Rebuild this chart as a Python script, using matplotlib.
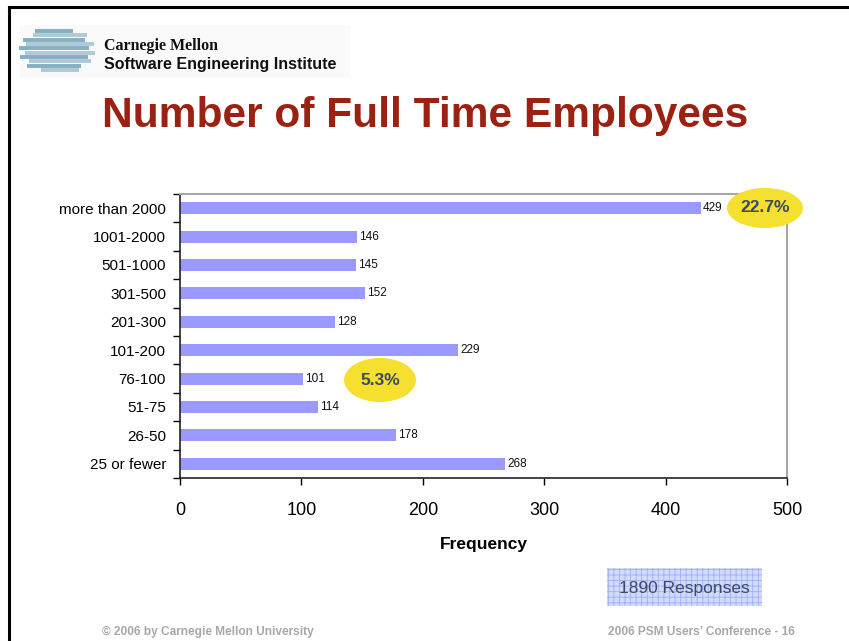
import matplotlib
matplotlib.use("Agg")
import matplotlib.pyplot as plt
from matplotlib.patches import Ellipse, Rectangle
from matplotlib.lines import Line2D
import numpy as np

plt.rcParams['font.family'] = ['Liberation Sans', 'DejaVu Sans']
plt.rcParams['hatch.linewidth'] = 0.6

# Survey data: number of full-time employees
categories = ["more than 2000", "1001-2000", "501-1000", "301-500", "201-300",
              "101-200", "76-100", "51-75", "26-50", "25 or fewer"]
frequencies = [429, 146, 145, 152, 128, 229, 101, 114, 178, 268]
x_ticks = [0, 100, 200, 300, 400, 500]
total_responses = 1890
callout_categories = ["more than 2000", "76-100"]

W, H = 849, 641
fig = plt.figure(figsize=(W / 100, H / 100), dpi=100)
fig.patch.set_facecolor("white")


def fx(px):
    return px / W


def fy(py):
    return 1 - py / H


# slide frame (top and left edges)
fig.add_artist(Line2D([fx(9), fx(849)], [fy(7), fy(7)], color="black", lw=2.2,
                      transform=fig.transFigure))
fig.add_artist(Line2D([fx(9), fx(9)], [fy(7), fy(641)], color="black", lw=2.2,
                      transform=fig.transFigure))

# institute logo: faint banner with a striped globe
fig.add_artist(Rectangle((fx(20), fy(78)), fx(330), 53 / H, transform=fig.transFigure,
                         facecolor="#FAFAFA", edgecolor="none", zorder=0))
stripe_rows = np.linspace(31, 70, 10)
for i, yy in enumerate(stripe_rows):
    t = (yy - 50.5) / 22.0
    half = 30 * np.sqrt(max(0.0, 1 - t * t)) + 5
    cx = 57 + (3 if i % 2 else -3)
    col = "#86AFC3" if i % 2 == 0 else "#AFCAD7"
    fig.add_artist(Line2D([fx(cx - half), fx(cx + half)], [fy(yy), fy(yy)],
                          color=col, lw=2.8, transform=fig.transFigure,
                          solid_capstyle="butt"))
fig.text(fx(104), fy(46), "Carnegie Mellon", family=["Liberation Serif"],
         fontweight="bold", fontsize=11.5, color="#111111", va="center", ha="left")
fig.text(fx(104), fy(65), "Software Engineering Institute", fontweight="bold",
         fontsize=11.5, color="#111111", va="center", ha="left")

# slide title
fig.text(fx(425), fy(116), "Number of Full Time Employees", fontweight="bold",
         fontsize=30.6, color="#9B2212", ha="center", va="center")

# bar chart
ax = fig.add_axes([fx(180), fy(478), fx(787) - fx(180), fy(194) - fy(478)])
ypos = np.arange(len(categories))
ax.barh(ypos, frequencies, height=0.42, color="#9999FF", zorder=2)
ax.set_ylim(len(categories) - 0.5, -0.5)
ax.set_xlim(0, 500)
ax.set_xticks(x_ticks)
ax.set_xticklabels([str(v) for v in x_ticks], fontsize=13)
ax.set_yticks(ypos)
ax.set_yticklabels(categories, fontsize=11)
ax.tick_params(axis="y", which="major", length=0, pad=10)
ax.set_yticks(np.arange(len(categories) + 1) - 0.5, minor=True)
ax.tick_params(axis="y", which="minor", length=5, direction="out", width=1)
ax.tick_params(axis="x", length=5, direction="out", width=1, pad=12)
ax.set_xlabel("Frequency", fontsize=12.5, fontweight="bold", labelpad=13)

for side in ("top", "right"):
    ax.spines[side].set_color("#A6A6A6")
    ax.spines[side].set_linewidth(1.5)
for side in ("left", "bottom"):
    ax.spines[side].set_color("#222222")
    ax.spines[side].set_linewidth(1.2)

for y, v in zip(ypos, frequencies):
    ax.annotate(str(v), (v, y), xytext=(1.5, 0), textcoords="offset points",
                fontsize=8.5, va="center", ha="left", color="#111111")

# percentage callouts
share = {c: f"{100 * f / total_responses:.1f}%" for c, f in zip(categories, frequencies)}
callout_pos = {"more than 2000": (765, 208, 76, 40), "76-100": (380, 380, 72, 44)}
for cat in callout_categories:
    cx, cy, w, h = callout_pos[cat]
    e = Ellipse((fx(cx), fy(cy)), fx(w), h / H, transform=fig.transFigure,
                facecolor="#F5DF2F", edgecolor="none", zorder=5)
    fig.add_artist(e)
    fig.text(fx(cx), fy(cy), share[cat], fontweight="bold", fontsize=12.5,
             color="#3C4A5E", ha="center", va="center", zorder=6)

# response count box
box = Rectangle((fx(607), fy(606)), fx(155), 38 / H, transform=fig.transFigure,
                facecolor="#D3DBFA", edgecolor="#9FB0F2", hatch="+++", lw=0)
fig.add_artist(box)
fig.text(fx(684), fy(588), f"{total_responses} Responses", fontsize=12.5,
         color="#3C4A68", ha="center", va="center")

# footer
fig.text(fx(102), fy(632), "\u00a9 2006 by Carnegie Mellon University", fontsize=8.6,
         fontweight="bold", color="#A8A8A8", ha="left", va="center")
fig.text(fx(608), fy(632), "2006 PSM Users\u2019 Conference - 16", fontsize=8.6,
         fontweight="bold", color="#A8A8A8", ha="left", va="center")

fig.savefig("out.png", dpi=100)
